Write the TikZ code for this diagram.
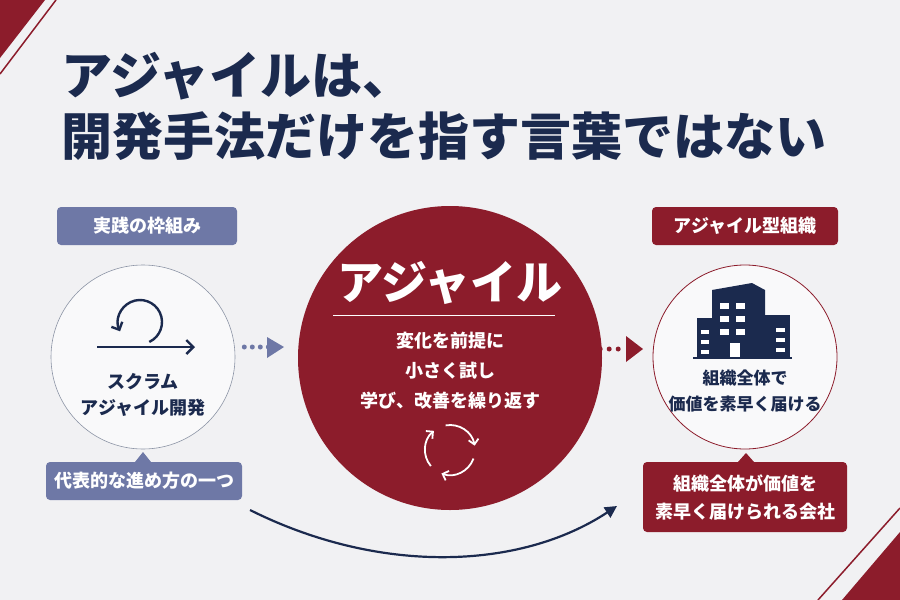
\documentclass[tikz,border=0pt]{standalone}
\usepackage{fontspec}
\setmainfont{Noto Sans CJK JP}
\usetikzlibrary{positioning,calc,arrows.meta}
\definecolor{navy}{HTML}{1B2A4E}
\definecolor{agred}{HTML}{8C1C2B}
\definecolor{slate}{HTML}{6E78A6}
\definecolor{bg}{HTML}{F1F1F3}
\tikzset{
  tag/.style={rounded corners=4pt, minimum height=38pt, text=white, font=\bfseries\fontsize{18}{20}\selectfont, inner xsep=8pt},
  ring/.style={circle, minimum size=184pt, fill=white!60!bg},
  body/.style={text=navy, font=\bfseries\fontsize{18}{26}\selectfont, align=center},
  dot/.style={circle, inner sep=0pt, minimum size=5pt},
}
\begin{document}
\begin{tikzpicture}[x=1pt,y=-1pt]
    \useasboundingbox (0,0) rectangle (900,600);
    \fill[bg] (0,0) rectangle (900,600);

    % corner stripes
    \fill[agred] (0,0) -- (45,0) -- (0,58) -- cycle;
    \draw[agred, line width=1.5pt] (56,0) -- (0,74);
    \fill[agred] (900,532) -- (900,600) -- (842,600) -- cycle;
    \draw[agred, line width=1.5pt] (900,508) -- (818,600);

    % title
    \node[anchor=west, text=navy, font=\bfseries\fontsize{51}{54}\selectfont] (t1) at (58,76) {アジャイルは、};
    \node[anchor=west, text=navy, font=\bfseries\fontsize{51}{54}\selectfont] (t2) at (58,136) {開発手法だけを指す言葉ではない};

    % left: practice
    \node[tag, fill=slate, minimum width=180pt] (lhead) at (147,226) {実践の枠組み};
    \node[ring, draw=navy!50, line width=0.6pt] (lring) at (143,357) {};
    \draw[navy, line width=2.4pt, -{Straight Barb[length=6pt]}] ($(140,322)+(65:22)$) arc (65:-205:22);
    \draw[navy, line width=2.4pt, -{Straight Barb[length=7pt]}] (97,347) -- (195,347);
    \node[body] (ltext) at (143,395) {スクラム\\アジャイル開発};
    \fill[slate] (135,462) -- (143,452) -- (151,462) -- cycle;
    \node[tag, fill=slate, minimum width=188pt] (lfoot) at (144,481) {代表的な進め方の一つ};

    % center: agile
    \node[circle, fill=agred, minimum size=304pt] (core) at (450,358) {};
    \node[text=white, font=\bfseries\fontsize{46}{50}\selectfont] (ctitle) at (450,283) {アジャイル};
    \draw[white, line width=0.8pt] (333,315) -- (555,315);
    \node[text=white, font=\bfseries\fontsize{18}{30}\selectfont, align=center] (ctext) at (450,371) {変化を前提に\\小さく試し\\学び、改善を繰り返す};
    \foreach \a in {20,140,260}
      \draw[white, line width=1.8pt, -{Straight Barb[length=5pt]}] ($(450,450)+(\a:25)$) arc (\a:\a+90:25);

    % right: organization
    \node[tag, fill=agred, minimum width=186pt] (rhead) at (745,226) {アジャイル型組織};
    \node[ring, draw=agred, line width=0.8pt] (rring) at (745,357) {};
    \fill[navy] (712,290) -- (752,283) -- (765,290) -- (765,358) -- (712,358) -- cycle;
    \fill[navy] (697,318) rectangle (712,358);
    \fill[navy] (760,315) rectangle (790,358);
    \foreach \yy in {303,316,329}
      \foreach \xx in {720,736}
        \fill[white] (\xx,\yy) rectangle (\xx+9,\yy+6);
    \foreach \yy in {330,340,350}
      \fill[white] (701,\yy) rectangle (709,\yy+4);
    \foreach \yy in {328,338,348}
      \fill[white] (776,\yy) rectangle (785,\yy+4);
    \fill[white] (730,343) rectangle (740,358);
    \draw[navy, line width=1.5pt] (693,358) -- (792,358);
    \node[body, font=\bfseries\fontsize{17}{26}\selectfont] (rtext) at (745,391) {組織全体で\\価値を素早く届ける};
    \fill[agred] (738,462) -- (746,453) -- (754,462) -- cycle;
    \node[tag, fill=agred, minimum width=204pt, minimum height=70pt, align=center, font=\bfseries\fontsize{18}{28}\selectfont] (rfoot) at (745,497) {組織全体が価値を\\素早く届けられる会社};

    % dotted connectors
    \foreach \i in {0,1,2,3}
      \node[dot, fill=slate] at ($(lring.east)+(9+\i*8,-10)$) {};
    \fill[slate] (267,337) -- (284,347) -- (267,358) -- cycle;
    \foreach \i in {0,1,2}
      \node[dot, fill=agred] at ($(core.east)+(-2+\i*9,-9)$) {};
    \fill[agred] (626,336) -- (643,349) -- (626,362) -- cycle;

    % flow
    \coordinate (fstart) at (250,510);
    \coordinate (fend) at (617,506);
    \draw[navy, line width=2.2pt, -{Triangle[length=12pt,width=12pt]}] (fstart) .. controls (380,575) and (520,570) .. (fend);
\end{tikzpicture}
\end{document}
